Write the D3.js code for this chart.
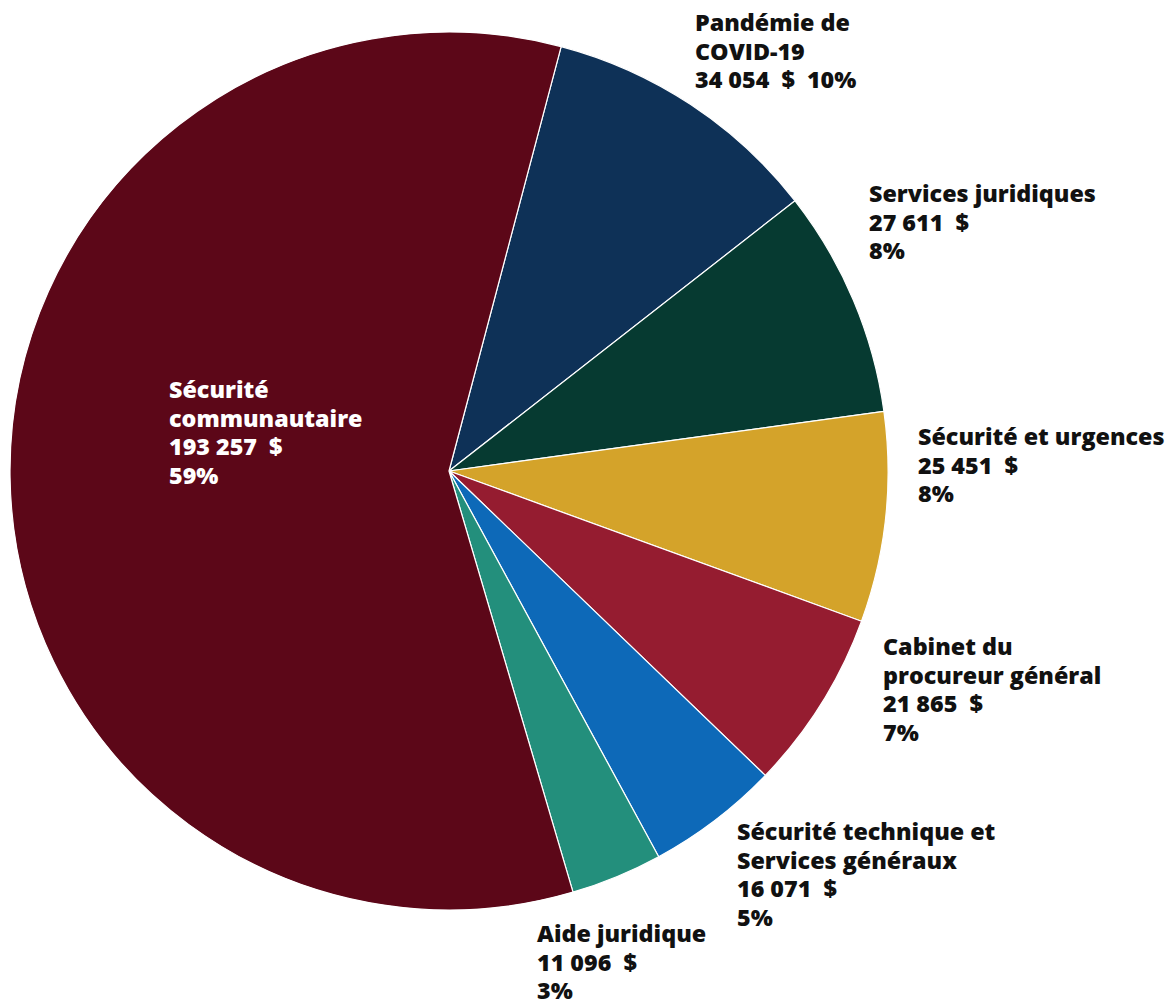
<!DOCTYPE html>
<html lang="fr">
<head>
<meta charset="utf-8">
<script src="https://cdn.jsdelivr.net/npm/d3@7/dist/d3.min.js"></script>
<style>
  html, body { margin: 0; padding: 0; background: #fff; }
  svg text { font-family: "Open Sans", "Noto Sans", sans-serif; font-weight: 800; font-size: 23.3px; white-space: pre; }
</style>
</head>
<body>
<svg id="chart" width="1169" height="1000"></svg>
<script>
// Budget par programme, dans l'ordre du tracé (sens horaire)
const categories = [
  "Pandémie de COVID-19",
  "Services juridiques",
  "Sécurité et urgences",
  "Cabinet du procureur général",
  "Sécurité technique et Services généraux",
  "Aide juridique",
  "Sécurité communautaire"
];
const values = [34054, 27611, 25451, 21865, 16071, 11096, 193257];
const colors = ["#0e3157", "#063a31", "#d4a32a", "#951c30", "#0d69b8", "#238f7c", "#5c0718"];

// Lignes de chaque étiquette (la ligne du montant et du pourcentage est ajoutée plus bas)
const labelLines = [
  ["Pandémie de", "COVID-19"],
  ["Services juridiques"],
  ["Sécurité et urgences"],
  ["Cabinet du", "procureur général"],
  ["Sécurité technique et", "Services généraux"],
  ["Aide juridique"],
  ["Sécurité", "communautaire"]
];
const pctOnSameLine = [true, false, false, false, false, false, false];
const labelAnchor = [[695, 31], [869, 202], [918, 445], [883, 655], [737, 840], [537, 942], [169, 398]];
const labelColor = ["#111", "#111", "#111", "#111", "#111", "#111", "#fff"];

const svg = d3.select("#chart");
const cx = 449, cy = 471, r = 439;
const total = d3.sum(values);
const fmt = d3.formatLocale({ decimal: ",", thousands: " ", grouping: [3], currency: ["", " $"] }).format(",d");

const start = 14.8 * Math.PI / 180;
const pie = d3.pie().sort(null).value(d => d)
  .startAngle(start)
  .endAngle(start + 2 * Math.PI);
const arc = d3.arc().innerRadius(0).outerRadius(r);

const g = svg.append("g").attr("transform", `translate(${cx},${cy})`);
g.selectAll("path")
  .data(pie(values))
  .join("path")
  .attr("d", arc)
  .attr("fill", (d, i) => colors[i])
  .attr("stroke", "#fff")
  .attr("stroke-width", 1.2)
  .attr("stroke-linejoin", "round");

const lh = 28.7;
categories.forEach((c, i) => {
  const pct = Math.round(values[i] / total * 100) + "%";
  const amount = fmt(values[i]) + "  $";
  const lines = labelLines[i].slice();
  if (pctOnSameLine[i]) lines.push(amount + "  " + pct);
  else { lines.push(amount); lines.push(pct); }
  const t = svg.append("text")
    .attr("x", labelAnchor[i][0])
    .attr("y", labelAnchor[i][1])
    .attr("fill", labelColor[i]);
  lines.forEach((l, k) => {
    t.append("tspan").attr("x", labelAnchor[i][0]).attr("dy", k === 0 ? 0 : lh).text(l);
  });
});
</script>
</body>
</html>
